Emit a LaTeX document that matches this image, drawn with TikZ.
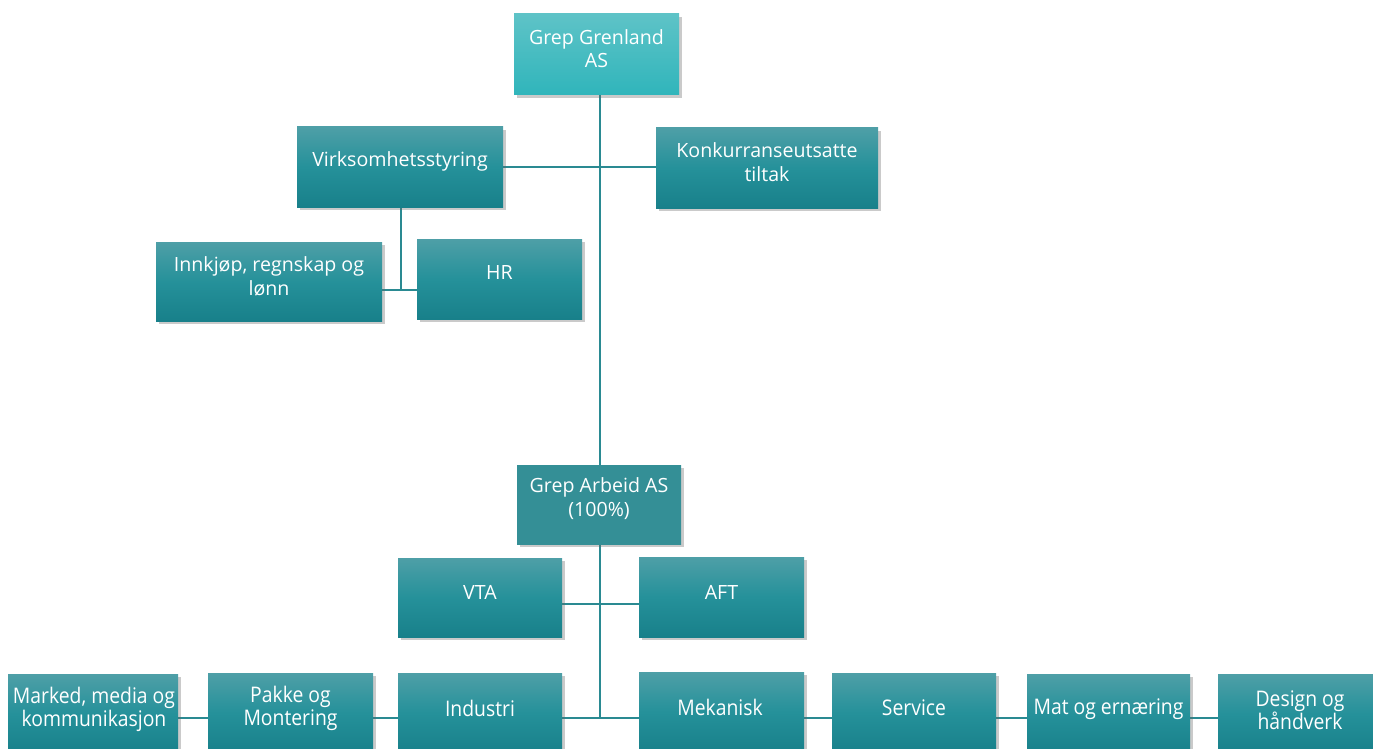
\documentclass[tikz,border=0pt]{standalone}
\usepackage{fontspec}
\setmainfont{Open Sans}
\usetikzlibrary{shadows,backgrounds}
\definecolor{gtop}{HTML}{5EC3C7}
\definecolor{gbot}{HTML}{30B5BB}
\definecolor{btop}{HTML}{4E9FA7}
\definecolor{bmid}{HTML}{25919A}
\definecolor{bbot}{HTML}{18808A}
\definecolor{arb}{HTML}{348F96}
\definecolor{lin}{HTML}{2A8A92}
\tikzset{
  orgbox/.style={rectangle, inner sep=0pt, top color=btop, bottom color=bbot, middle color=bmid,
    drop shadow={shadow xshift=3pt, shadow yshift=-3pt, opacity=0.35, fill=black!60}},
  lbl/.style={text=white, align=center, font=\fontsize{19.6}{23.5}\selectfont, inner sep=0pt},
  clbl/.style={text=white, align=center, font=\fontsize{21.5}{23}\selectfont, inner sep=0pt},
  conn/.style={draw=lin, line width=2.6pt}
}
\newcommand{\cnd}[1]{\scalebox{0.9}[1]{#1}}
\begin{document}
\begin{tikzpicture}[x=1pt,y=-1pt]
\useasboundingbox (0,0) rectangle (1373,749);
% boxes
\node[orgbox, top color=gtop, bottom color=gbot, middle color=gtop!50!gbot, minimum width=165, minimum height=81] (gg) at (596.5,54.5) {};
\node[orgbox, minimum width=206, minimum height=80] (vs) at (400,167) {};
\node[orgbox, minimum width=222, minimum height=80] (kt) at (767,168) {};
\node[orgbox, minimum width=226, minimum height=79] (ink) at (269,281.5) {};
\node[orgbox, minimum width=165, minimum height=80] (hr) at (499.5,279) {};
\node[orgbox, top color=arb, bottom color=arb, middle color=arb, minimum width=164, minimum height=79] (ga) at (599,504.5) {};
\node[orgbox, minimum width=164, minimum height=79] (vta) at (480,597.5) {};
\node[orgbox, minimum width=165, minimum height=80] (aft) at (721.5,597) {};
\node[orgbox, minimum width=170, minimum height=80] (mmk) at (93,714) {};
\node[orgbox, minimum width=165, minimum height=80] (pak) at (290.5,713) {};
\node[orgbox, minimum width=164, minimum height=80] (ind) at (480,713) {};
\node[orgbox, minimum width=165, minimum height=80] (mek) at (721.5,712) {};
\node[orgbox, minimum width=164, minimum height=80] (ser) at (914,713) {};
\node[orgbox, minimum width=163, minimum height=80] (mat) at (1108.5,714) {};
\node[orgbox, minimum width=160, minimum height=80] (des) at (1298,714) {};
% labels
\node[lbl] (ggt) at (596.5,48.5) {Grep Grenland\\AS};
\node[lbl] (vst) at (400,161) {Virksomhetsstyring};
\node[lbl] (ktt) at (767,162) {Konkurranseutsatte\\tiltak};
\node[lbl] (inkt) at (269,276.5) {Innkjøp, regnskap og\\lønn};
\node[lbl] (hrt) at (499.5,273) {HR};
\node[lbl] (gat) at (599,498.5) {Grep Arbeid AS\\(100\%)};
\node[lbl] (vtat) at (480,592) {VTA};
\node[lbl] (aftt) at (721.5,592) {AFT};
\node[clbl] (mmkt) at (94,709.5) {\cnd{Marked, media og}\\\cnd{kommunikasjon}};
\node[clbl] (pakt) at (290.5,708.5) {\cnd{Pakke og}\\\cnd{Montering}};
\node[clbl] (indt) at (480,708) {\cnd{Industri}};
\node[clbl] (mekt) at (720,707) {\cnd{Mekanisk}};
\node[clbl] (sert) at (914,708) {\cnd{Service}};
\node[clbl] (matt) at (1108.5,709) {\cnd{Mat og ernæring}};
\node[clbl] (dest) at (1300,710.5) {\cnd{Design og}\\\cnd{håndverk}};
% junctions
\coordinate (hub) at (600,718);
\coordinate (j1) at (401,290);
\coordinate (j2) at (600,604);
\begin{scope}[on background layer]
\draw[conn] (gg.south -| hub) -- (hub);
\draw[conn] (vs.east) -- (kt.west |- vs.east);
\draw[conn] (vs.south -| j1) -- (j1);
\draw[conn] (ink.east |- j1) -- (hr.west |- j1);
\draw[conn] (vta.east |- j2) -- (aft.west |- j2);
\draw[conn] (mmk.east |- hub) -- (des.west |- hub);
\end{scope}
\end{tikzpicture}
\end{document}
